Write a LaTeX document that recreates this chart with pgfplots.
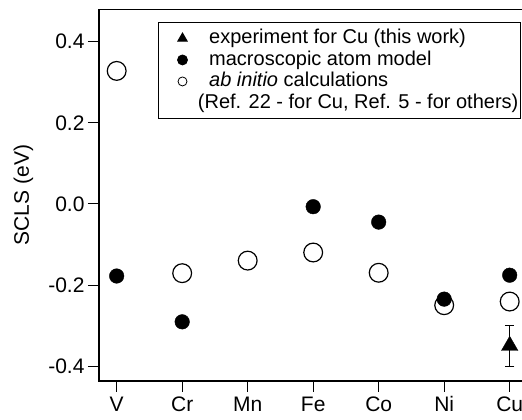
\documentclass[border=0pt]{standalone}
\usepackage{fontspec}
\setmainfont{Liberation Sans}
\usepackage{pgfplots}
\pgfplotsset{compat=1.18}
\pgfplotsset{myleg/.style={legend image code/.code={\path (0pt,0pt) (50.3pt,0pt); \draw[##1] plot coordinates {(24pt,0pt)};}}}
\begin{document}
\begin{tikzpicture}
\path[use as bounding box] (-99pt,-39pt) rectangle (423pt,381pt);
\begin{axis}[
 at={(0pt,0pt)}, anchor=south west,
 scale only axis, width=431pt, height=371.7pt,
 xmin=-0.27, xmax=6.31, ymin=-0.437, ymax=0.48,
 axis line style={line width=1.2pt, black},
 xtick={0,...,6}, xticklabels={V,Cr,Mn,Fe,Co,Ni,Cu},
 ytick={-0.4,-0.2,0,0.2,0.4}, yticklabels={-0.4,-0.2,0.0,0.2,0.4},
 tick align=outside, xtick pos=left, ytick pos=left, major tick length=11pt,
 tick style={line width=0.8pt, black},
 tick label style={font=\fontsize{21}{25}\selectfont},
 x tick label style={text height=15pt, text depth=0pt, inner ysep=4pt},
 /pgf/number format/assume math mode=true,
 ylabel={SCLS (eV)},
 ylabel style={font=\fontsize{21}{25}\selectfont, at={(axis description cs:-0.1752,0.5)}, anchor=center},
 legend style={at={(axis description cs:0.1362,0.965)}, anchor=north west, draw=black, line width=0.8pt, inner xsep=0pt, inner ysep=5pt, row sep=0pt, column sep=0pt, font=\fontsize{20}{24}\selectfont, nodes={inner xsep=0pt, inner ysep=0pt, text height=16pt, text depth=5.5pt}},
 legend cell align=left,
]
\addlegendimage{myleg, mark=triangle*, mark size=5.5pt, black}
\addlegendentry{experiment for Cu (this work)}
\addlegendimage{myleg, mark=*, mark size=5pt, black}
\addlegendentry{macroscopic atom model}
\addlegendimage{myleg, mark=o, mark size=4.5pt, black, line width=0.8pt}
\addlegendentry{\textit{ab initio} calculations}
\addlegendimage{empty legend}
\addlegendentry{\hspace*{-11.3pt}(Ref. 22 - for Cu, Ref. 5 - for others)\hspace*{2pt}}

\addplot[only marks, mark=*, mark size=9.4pt, mark options={fill=white, draw=black, line width=1.2pt}, forget plot] coordinates {(0,0.328)(1,-0.171)(2,-0.140)(3,-0.120)(4,-0.170)(5,-0.250)(6,-0.241)};
\addplot[only marks, mark=*, mark size=7.3pt, black, forget plot] coordinates {(0,-0.178)(1,-0.291)(3,-0.007)(4,-0.045)(5,-0.235)(6,-0.176)};
\addplot[only marks, mark=triangle*, mark size=9.5pt, black, forget plot, error bars/.cd, y dir=both, y explicit, error bar style={line width=0.8pt, black}, error mark options={rotate=90, mark size=4.7pt, line width=0.8pt, black}] coordinates {(6,-0.35) +- (0,0.05)};
\end{axis}
\end{tikzpicture}
\end{document}
